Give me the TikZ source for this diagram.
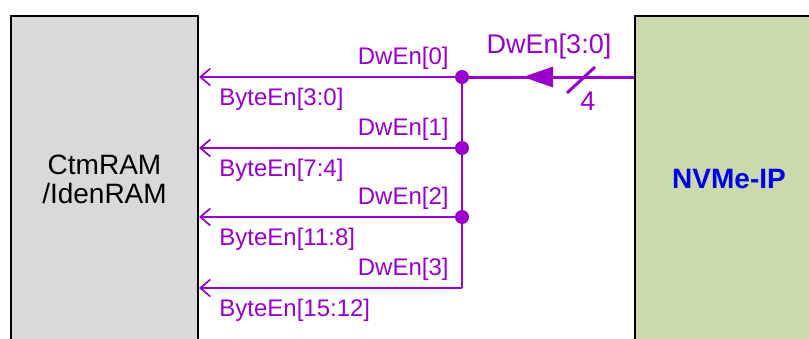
\documentclass[tikz,border=0pt]{standalone}
\usepackage{fontspec}
\setmainfont{Liberation Sans}
\usetikzlibrary{arrows.meta,positioning}
\definecolor{sigpurple}{RGB}{153,0,204}
\definecolor{ramgray}{RGB}{217,217,217}
\definecolor{ipgreen}{RGB}{203,218,170}
\definecolor{ipblue}{RGB}{0,0,235}
\tikzset{% blocks and signals
        blockbox/.style={draw=black, line width=1pt, anchor=north west,
          minimum width=93.5pt, minimum height=163pt, inner sep=0pt},
        sig/.style={draw=sigpurple, line width=0.85pt},
        bus/.style={draw=sigpurple, line width=1.5pt},
        siglabel/.style={text=sigpurple, font=\fontsize{12}{14}\selectfont, inner sep=0pt},
        buslabel/.style={siglabel, font=\fontsize{13.5}{15}\selectfont},
        jdot/.style={circle, fill=sigpurple, inner sep=0pt, minimum size=7pt}
        }

\begin{document}
\begin{tikzpicture}[x=0.5pt, y=-0.5pt]
 \useasboundingbox (0,0) rectangle (809,338);
 \clip (0,0) rectangle (809,338);
 \node (ram) [blockbox, fill=ramgray] at (10,15) {};
 \node (ip) [blockbox, fill=ipgreen, minimum width=94pt] at (634,15) {};
 \node [align=center, font=\fontsize{14}{14.5}\selectfont] at (ram.center) {CtmRAM\\/IdenRAM};
 \node [text=ipblue, font=\fontsize{14}{16}\selectfont\bfseries] at (ip.center) {NVMe-IP};
 % junctions on the split bus
 \coordinate (j0) at (462,77);
 \coordinate (j1) at (462,148);
 \coordinate (j2) at (462,217);
 \coordinate (j3) at (462,288);
 \coordinate (bustip) at (523,77);
 \draw[sig] (j0) -- (j3);
 \foreach \k/\y/\rng in {0/77/3:0, 1/148/7:4, 2/217/11:8, 3/288/15:12} {
   \draw[sig, -{Straight Barb[length=5pt, width=8.5pt]}] (j\k) -- (ram.east |- j\k);
   \node [siglabel, anchor=base east] at (449,\y-12.5) {DwEn[\k]};
   \node [siglabel, anchor=base west] at (219,\y+28) {ByteEn[\rng]};
 }
 \draw[bus] (ip.west |- j0) -- (j0);
 \draw[bus, -{Triangle[length=15pt, width=10pt]}] (ip.west |- j0) -- (bustip);
 \draw[bus] (567,93) -- (595,67);
 \node [buslabel, anchor=base] at (588,110) {4};
 \node [buslabel, anchor=base] at (549,53) {DwEn[3:0]};
 \foreach \k in {0,1,2}
   \node [jdot] at (j\k) {};
\end{tikzpicture}
\end{document}
